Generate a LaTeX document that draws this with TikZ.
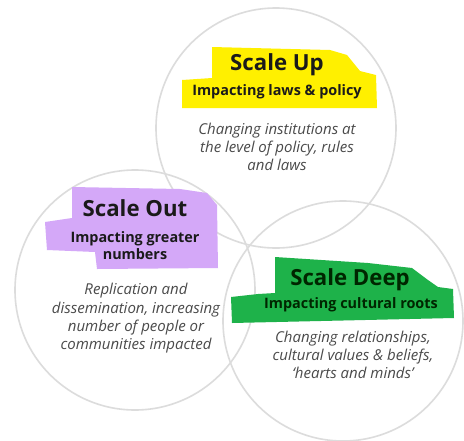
\documentclass[tikz,border=0pt]{standalone}
\usepackage{fontspec}
\setmainfont{Open Sans}
\definecolor{ringgray}{HTML}{DCDCDC}
\definecolor{hlyellow}{HTML}{FFF000}
\definecolor{hlpurple}{HTML}{D4A8F8}
\definecolor{hlgreen}{HTML}{1EB24A}
\definecolor{titletext}{HTML}{1A1A1A}
\definecolor{desctext}{HTML}{4A4A4A}
\tikzset{
  ring/.style={circle, draw=ringgray, line width=1.6pt, minimum size=240pt, inner sep=0pt},
  titletxt/.style={font=\fontsize{22.2}{24}\selectfont\bfseries, text=titletext, inner sep=0pt},
  subtxt/.style={font=\fontsize{14.4}{17}\selectfont\bfseries, text=titletext, inner sep=0pt, align=center},
  desctxt/.style={font=\fontsize{15}{18.3}\selectfont\itshape, text=desctext, inner sep=0pt, align=center},
}
\begin{document}
\begin{tikzpicture}[x=1pt,y=-1pt]
\useasboundingbox (0,0) rectangle (464,440);
\fill[white] (0,0) rectangle (464,440);
% circles
\node[ring] (cup) at (276,128) {};
\node[ring] (cout) at (135,290) {};
\node[ring] (cdeep) at (343,321) {};
% highlight blobs
\fill[hlyellow] (212,47) -- (330,50) -- (347,55) -- (360,71) -- (376,75) -- (377,108) -- (182,108) -- (182,80) -- (212,78) -- cycle;
\fill[hlpurple] (72,187) -- (180,189) -- (207,193) -- (217,205) -- (218,268) -- (97,269) -- (95,252) -- (47,250) -- (45,222) -- (72,218) -- cycle;
\fill[hlgreen] (275,257) -- (368,263) -- (412,268) -- (428,280) -- (438,287) -- (453,289) -- (454,318) -- (232,323) -- (231,297) -- (258,294) -- (275,293) -- cycle;
% texts
\node[titletxt] (tup) at (277,65) {Scale Up};
\node[subtxt] (sup1) at (277,92) {Impacting laws \& policy};
\node[desctxt] (dup) at (277,147) {Changing institutions at\\the level of policy, rules\\and laws};
\node[titletxt] (tout) at (135,208) {Scale Out};
\node[subtxt] (sout) at (135,245.5) {Impacting greater\\numbers};
\node[desctxt] (dout) at (136,318.5) {Replication and\\dissemination, increasing\\number of people or\\communities impacted};
\node[titletxt, text=black!85!green] (tdeep) at (350,280) {Scale Deep};
\node[subtxt, text=black!85!green] (sdeep) at (351,305) {Impacting cultural roots};
\node[desctxt] (ddeep) at (353,355) {Changing relationships,\\cultural values \& beliefs,\\‘hearts and minds’};
\end{tikzpicture}
\end{document}
